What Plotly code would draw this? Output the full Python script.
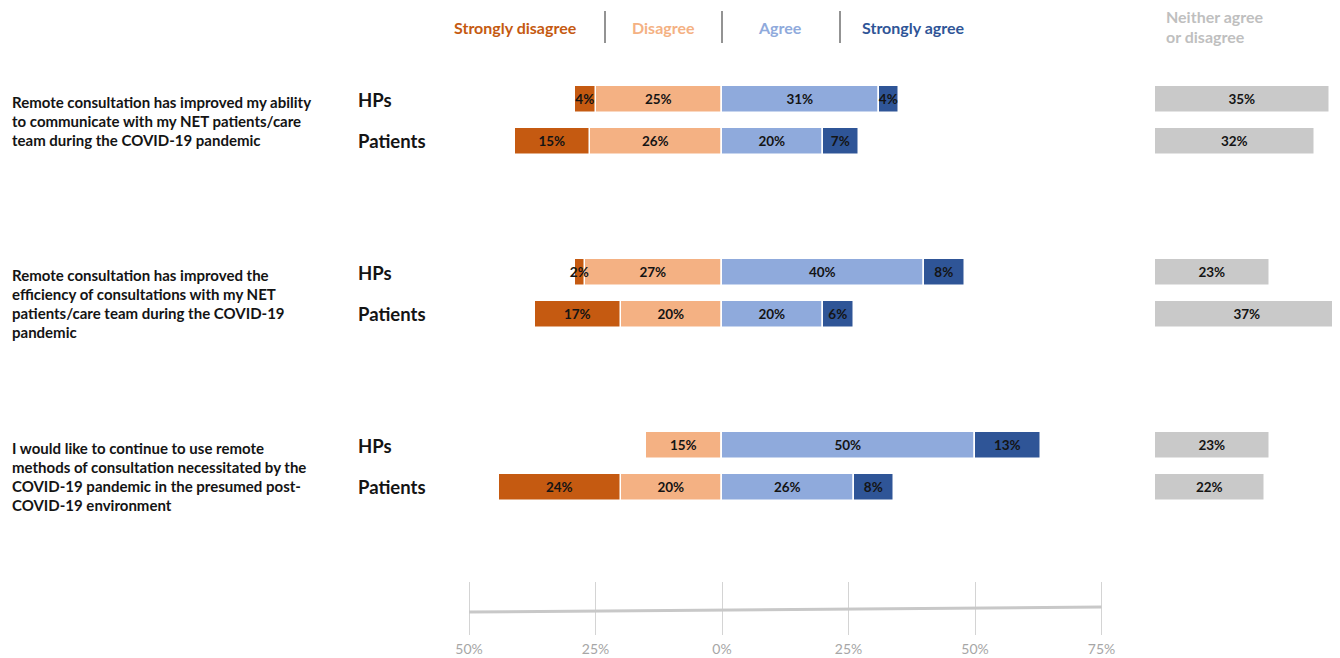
import plotly.graph_objects as go

# ---------------- data ----------------
questions = [
    ["Remote consultation has improved my ability",
     "to communicate with my NET patients/care",
     "team during the COVID-19 pandemic"],
    ["Remote consultation has improved the",
     "efficiency of consultations with my NET",
     "patients/care team during the COVID-19",
     "pandemic"],
    ["I would like to continue to use remote",
     "methods of consultation necessitated by the",
     "COVID-19 pandemic in the presumed post-",
     "COVID-19 environment"],
]
groups = ["HPs", "Patients"]
strongly_disagree = [4, 15, 2, 17, 0, 24]
disagree = [25, 26, 27, 20, 15, 20]
agree = [31, 20, 40, 20, 50, 26]
strongly_agree = [4, 7, 8, 6, 13, 8]
neutral = [35, 32, 23, 37, 23, 22]
axis_ticks = [-50, -25, 0, 25, 50, 75]
axis_ticktext = ["50%", "25%", "0%", "25%", "50%", "75%"]

# ---------------- style / layout ----------------
VW, VH = 1340, 658          # browser viewport
OFF = 8                     # default page margin around the plot div
W, H = VW - OFF, VH - OFF   # figure size so that it ends at the viewport edge
FONT = "Lato"
C_SD, C_D, C_A, C_SA, C_N = "#C55A11", "#F4B183", "#8FAADC", "#2F5597", "#C9C9C9"
C_NTXT = "#BFBFBF"
C_TXT = "#141414"
PX_PER_PCT = 5.06
ZERO_PX = 722
N_LEFT_PX = 1155
N_PX_PER_PCT = 5.0
FIRST_ROW, GROUP_GAP, PAIR_GAP, BAR_H = 99.5, 173, 41.5, 27


def px(xv):   # viewport x pixel -> paper x
    return (xv - OFF) / W


def py(yv):   # viewport y pixel -> paper y
    return 1 - (yv - OFF) / H


rows_y = []
for g in range(len(questions)):
    for s in range(len(groups)):
        rows_y.append(FIRST_ROW + g * GROUP_GAP + s * PAIR_GAP)


def lbl(vals):
    return [f"{v}%" if v else "" for v in vals]


def bar(vals, color, sign=1, xaxis="x"):
    return go.Bar(
        x=[sign * v for v in vals], y=rows_y, orientation="h",
        width=BAR_H, marker=dict(color=color, line=dict(color="white", width=1.5)),
        text=lbl(vals), textposition="inside", insidetextanchor="middle",
        constraintext="none", textangle=0,
        textfont=dict(family=FONT, size=13.5, color=C_TXT, weight="bold"),
        xaxis=xaxis, yaxis="y", showlegend=False, hoverinfo="skip",
    )


fig = go.Figure()
fig.add_trace(bar(disagree, C_D, -1))
fig.add_trace(bar(strongly_disagree, C_SD, -1))
fig.add_trace(bar(agree, C_A))
fig.add_trace(bar(strongly_agree, C_SA))
fig.add_trace(bar(neutral, C_N, 1, "x2"))

x_range = [(OFF - ZERO_PX) / PX_PER_PCT, (VW - ZERO_PX) / PX_PER_PCT]
n_range_max = (VW - N_LEFT_PX) / N_PX_PER_PCT

ann = []
# question text
for g, lines in enumerate(questions):
    y0 = rows_y[g * 2] + 2
    for i, t in enumerate(lines):
        ann.append(dict(text=t, x=px(10), xref="paper", xanchor="left",
                        y=y0 + i * 19, yref="y", yanchor="middle", showarrow=False,
                        font=dict(family=FONT, size=15, color=C_TXT, weight="bold")))
# group labels
for k, y in enumerate(rows_y):
    ann.append(dict(text=groups[k % 2], x=px(356), xref="paper", xanchor="left",
                    y=y, yref="y", yanchor="middle", showarrow=False,
                    font=dict(family=FONT, size=18.5, color=C_TXT, weight="bold")))
# header
headers = [("Strongly disagree", 515, C_SD), ("Disagree", 663, C_D),
           ("Agree", 780, C_A), ("Strongly agree", 913, C_SA)]
for t, xp, c in headers:
    ann.append(dict(text=t, x=px(xp), xref="paper", xanchor="center",
                    y=py(27), yref="paper", yanchor="middle", showarrow=False,
                    font=dict(family=FONT, size=16, color=c, weight="bold")))
for i, t in enumerate(["Neither agree", "or disagree"]):
    ann.append(dict(text=t, x=px(1164), xref="paper", xanchor="left",
                    y=py(17 + 20 * i), yref="paper", yanchor="middle", showarrow=False,
                    font=dict(family=FONT, size=16, color=C_NTXT, weight="bold")))

shapes = []
for xp in [605, 722, 840]:
    shapes.append(dict(type="line", xref="paper", yref="paper",
                       x0=px(xp), x1=px(xp), y0=py(11), y1=py(43),
                       line=dict(color="#595959", width=1.3)))
# bottom axis baseline (slightly sloped as in the reference)
shapes.append(dict(type="line", xref="x3", yref="paper",
                   x0=min(axis_ticks), x1=max(axis_ticks),
                   y0=py(612), y1=py(607),
                   line=dict(color="#C8C8C8", width=3)))

fig.update_layout(
    width=W, height=H, margin=dict(l=0, r=0, t=0, b=0),
    paper_bgcolor="white", plot_bgcolor="rgba(0,0,0,0)",
    barmode="relative", bargap=0,
    xaxis=dict(domain=[0, 1], range=x_range, visible=False),
    xaxis2=dict(domain=[px(N_LEFT_PX), 1], range=[0, n_range_max], visible=False,
                anchor="y"),
    yaxis=dict(domain=[0, 1], range=[VH, OFF], visible=False),
    xaxis3=dict(domain=[0, 1], range=x_range, anchor="y3",
                tickvals=axis_ticks, ticktext=axis_ticktext,
                showgrid=True, gridcolor="#D4D4D4", gridwidth=1,
                zeroline=False, showline=False, ticks="",
                ticklabelstandoff=4,
                tickfont=dict(family=FONT, size=14, color="#A6A6A6")),
    yaxis3=dict(domain=[py(635), py(582)], range=[0, 1], visible=False,
                anchor="x3"),
    annotations=ann, shapes=shapes,
)

fig.write_html("out.html")
